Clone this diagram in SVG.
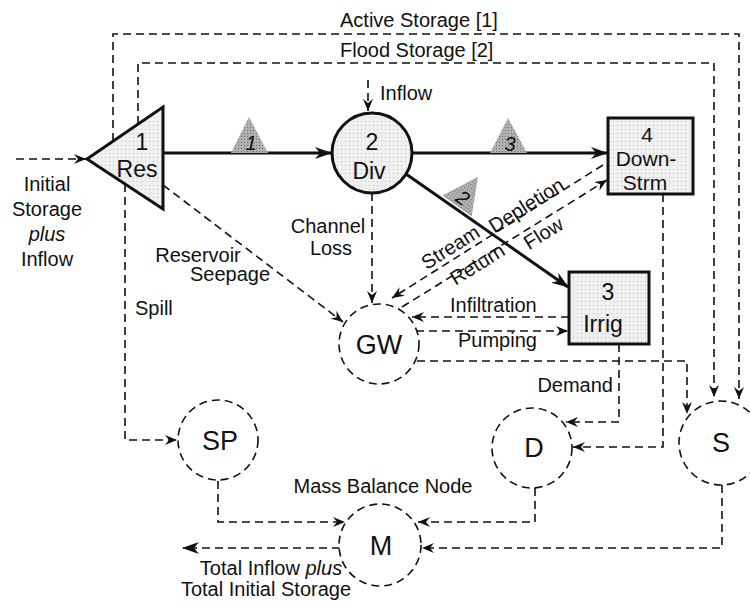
<svg xmlns="http://www.w3.org/2000/svg" width="750" height="602" viewBox="0 0 750 602">
<defs>
<pattern id="stip" width="4" height="4" patternUnits="userSpaceOnUse"><rect width="4" height="4" fill="#f0f0f0"/><rect x="1" y="1" width="1" height="1" fill="#c4c4c4"/></pattern>
<pattern id="stipD" width="3" height="3" patternUnits="userSpaceOnUse"><rect width="3" height="3" fill="#b0b0b0"/><rect x="1" y="1" width="1" height="1" fill="#707070"/></pattern>
<marker id="aS" markerUnits="userSpaceOnUse" markerWidth="18" markerHeight="12" refX="16" refY="6" orient="auto"><path d="M0,0 L17,6 L0,12 L5,6 z" fill="#111"/></marker>
<marker id="aD" markerUnits="userSpaceOnUse" markerWidth="13" markerHeight="10" refX="12" refY="5" orient="auto"><path d="M0,0 L12,5 L0,10 L4,5 z" fill="#111"/></marker>
</defs>
<style>
.t{font-family:"Liberation Sans",Arial,Helvetica,sans-serif;font-size:20px;fill:#111}
.m{text-anchor:middle}
.n{font-size:23px}
.b{font-size:21px}
.c{font-size:27px}
.i{font-style:italic}
.d{fill:none;stroke:#111;stroke-width:1.6;stroke-dasharray:8 5}
.s{fill:none;stroke:#111;stroke-width:3}
.dc{fill:#fff;stroke:#111;stroke-width:1.6;stroke-dasharray:8 5}
.node{fill:url(#stip);stroke:#111;stroke-width:3}
.flag{fill:url(#stipD);stroke:none}
</style>
<rect width="750" height="602" fill="#fff"/>

<g id="connectors">
<path class="d" d="M16,159 H86" marker-end="url(#aD)"/>
<path class="s" d="M163,153 H331" marker-end="url(#aS)"/>
<path class="s" d="M412,153 H607" marker-end="url(#aS)"/>
<path class="s" d="M406,174 L568,287" marker-end="url(#aS)"/>
<path class="d" d="M368,80 V111" marker-end="url(#aD)"/>
<path class="d" d="M113,141 V34 H739 V399" marker-end="url(#aD)"/>
<path class="d" d="M138,124 V63 H714 V397" marker-end="url(#aD)"/>
<path class="d" d="M163,185 L343,322" marker-end="url(#aD)"/>
<path class="d" d="M125,184 V440 H177" marker-end="url(#aD)"/>
<path class="d" d="M372,193 V303" marker-end="url(#aD)"/>
<path class="d" d="M603,165 L392,298" marker-end="url(#aD)"/>
<path class="d" d="M402,307 L607,180" marker-end="url(#aD)"/>
<path class="d" d="M569,317 H412" marker-end="url(#aD)"/>
<path class="d" d="M416,331 H568" marker-end="url(#aD)"/>
<path class="d" d="M417,361 H687 V414" marker-end="url(#aD)"/>
<path class="d" d="M619,344 V422 H566" marker-end="url(#aD)"/>
<path class="d" d="M663,194 V447 H573" marker-end="url(#aD)"/>
<path class="d" d="M218,481 V522 H345" marker-end="url(#aD)"/>
<path class="d" d="M535,488 V522 H418" marker-end="url(#aD)"/>
<path class="d" d="M722,485 V548 H422" marker-end="url(#aD)"/>
<path class="d" d="M340,548 H183" marker-end="url(#aS)"/>
<polygon class="flag" points="231,153 249,117 268,153"/>
<text class="t m i" x="251" y="150" font-size="18">1</text>
<polygon class="flag" points="490,153 508,118 527,153"/>
<text class="t m i" x="510" y="151" font-size="18">3</text>
<g transform="translate(457,206) rotate(35.7)">
<polygon class="flag" points="-18,0 0,-36 18,0"/>
<text class="t m i" x="0" y="-3" font-size="18">2</text>
</g>
</g>

<g id="res">
<polygon class="node" points="87,159 163,107 163,209"/>
<text class="t m n" x="142" y="150">1</text>
<text class="t m n" x="137" y="177">Res</text>
</g>
<g id="div">
<circle class="node" cx="372" cy="153" r="40" stroke-width="2.5"/>
<text class="t m n" x="372" y="150">2</text>
<text class="t m n" x="369" y="179">Div</text>
</g>
<g id="downstrm">
<rect class="node" x="608" y="118" width="85" height="76"/>
<text class="t m b" x="647" y="142">4</text>
<text class="t m b" x="646" y="166">Down-</text>
<text class="t m b" x="645" y="190">Strm</text>
</g>
<g id="irrig">
<rect class="node" x="569" y="272" width="80" height="72"/>
<text class="t m n" x="608" y="300">3</text>
<text class="t m n" x="603" y="332">Irrig</text>
</g>
<g id="gw">
<circle class="dc" cx="379" cy="344" r="40"/>
<text class="t m c" x="379" y="354">GW</text>
</g>
<g id="sp">
<circle class="dc" cx="218" cy="440" r="40"/>
<text class="t m c" x="220" y="450">SP</text>
</g>
<g id="d">
<circle class="dc" cx="532" cy="448" r="40"/>
<text class="t m c" x="534" y="457">D</text>
</g>
<g id="s">
<circle class="dc" cx="721" cy="443" r="42"/>
<text class="t m c" x="721" y="452">S</text>
</g>
<g id="m">
<circle class="dc" cx="380" cy="545" r="41"/>
<text class="t m c" x="381" y="555">M</text>
</g>

<g id="labels">
<text class="t" x="340" y="27">Active Storage [1]</text>
<text class="t" x="340" y="57">Flood Storage [2]</text>
<text class="t" x="380" y="100">Inflow</text>
<text class="t m" x="47" y="191">Initial</text>
<text class="t m" x="47" y="216">Storage</text>
<text class="t m i" x="47" y="241">plus</text>
<text class="t m" x="47" y="266">Inflow</text>
<text class="t m" x="328" y="233">Channel</text>
<text class="t m" x="331" y="255">Loss</text>
<text class="t m" x="198" y="262">Reservoir</text>
<text class="t m" x="230" y="281">Seepage</text>
<text class="t" x="135" y="315">Spill</text>
<text class="t" x="450" y="312">Infiltration</text>
<text class="t" x="458" y="347">Pumping</text>
<text class="t" x="613" y="392" text-anchor="end">Demand</text>
<text class="t m" x="383" y="493">Mass Balance Node</text>
<text class="t m" x="271" y="575">Total Inflow <tspan class="i">plus</tspan></text>
<text class="t m" x="266" y="596">Total Initial Storage</text>
<text class="t m" x="454" y="253" transform="rotate(-32.2 454 253)">Stream</text>
<text class="t m" x="530" y="211" transform="rotate(-32.2 530 211)">Depletion</text>
<text class="t m" x="481" y="270" transform="rotate(-31.8 481 270)">Return</text>
<text class="t m" x="547" y="239" transform="rotate(-31.8 547 239)">Flow</text>
</g>
</svg>
